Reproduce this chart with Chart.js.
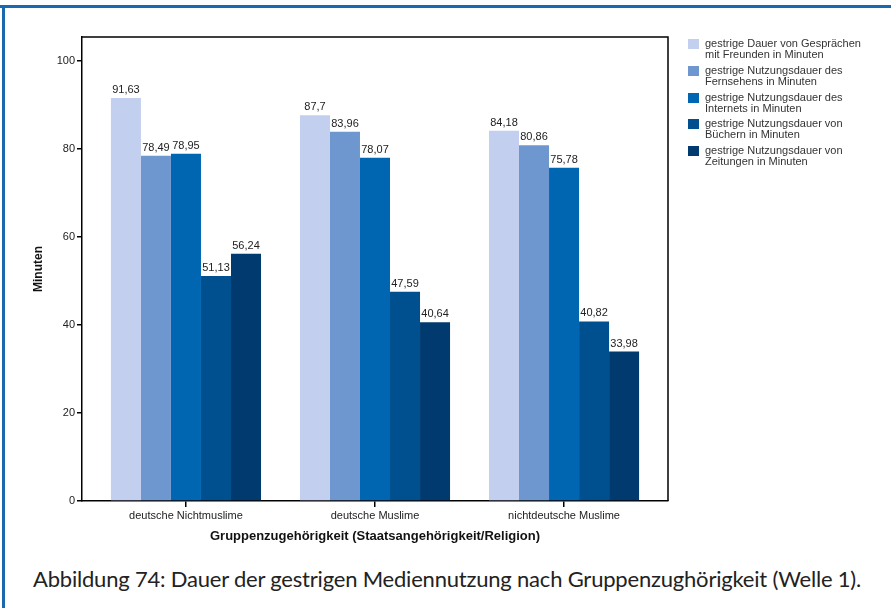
<!DOCTYPE html>
<html>
<head>
<meta charset="utf-8">
<script src="https://cdn.jsdelivr.net/npm/chart.js@4"></script>
<style>
  body { margin: 0; background: #fff; }
  #wrap { position: relative; width: 891px; height: 608px; overflow: hidden; background: #fff; }
  #rahmenOben { position: absolute; left: 0; top: 5px; width: 891px; height: 3px; background: #1a68b0; }
  #rahmenLinks { position: absolute; left: 2px; top: 5px; width: 3px; height: 603px; background: #1a68b0; }
  #grafik { position: absolute; left: 0; top: 0; }
  #legende { position: absolute; left: 688px; top: 39px; font: 11px "Liberation Sans", Arial, sans-serif; color: #333; }
  .eintrag { position: relative; height: 26.8px; }
  .farbe { position: absolute; left: 0; top: 0; width: 11px; height: 10px; }
  .text { position: absolute; left: 17px; top: -1px; line-height: 11px; white-space: nowrap; }
  #unterschrift { position: absolute; left: 33px; top: 565px; font: 22px Lato, sans-serif; letter-spacing: -0.2px; color: #222; white-space: nowrap; }
</style>
</head>
<body>
<div id="wrap">
  <div id="rahmenOben"></div>
  <div id="rahmenLinks"></div>
  <canvas id="grafik" width="891" height="560"></canvas>
  <div id="legende"></div>
  <div id="unterschrift">Abbildung 74: Dauer der gestrigen Mediennutzung nach Gruppenzughörigkeit (Welle 1).</div>
</div>
<script>
// Gruppen auf der x-Achse
var gruppen = ["deutsche Nichtmuslime", "deutsche Muslime", "nichtdeutsche Muslime"];

// Minuten je Medium (eine Reihe pro Medium, Werte je Gruppe)
var gespraeche = [91.63, 87.7, 84.18];
var fernsehen = [78.49, 83.96, 80.86];
var internet = [78.95, 78.07, 75.78];
var buecher = [51.13, 47.59, 40.82];
var zeitungen = [56.24, 40.64, 33.98];

var reihenNamen = [
  ["gestrige Dauer von Gesprächen", "mit Freunden in Minuten"],
  ["gestrige Nutzungsdauer des", "Fernsehens in Minuten"],
  ["gestrige Nutzungsdauer des", "Internets in Minuten"],
  ["gestrige Nutzungsdauer von", "Büchern in Minuten"],
  ["gestrige Nutzungsdauer von", "Zeitungen in Minuten"]
];
var farben = ["#c3cfee", "#6f97cf", "#0066b2", "#00508f", "#003a6e"];
var yTicks = [0, 20, 40, 60, 80, 100];

var reihen = [gespraeche, fernsehen, internet, buecher, zeitungen];

var datasets = reihen.map(function(werte, i) {
  return {
    label: reihenNamen[i].join(" "),
    backgroundColor: farben[i],
    borderWidth: 0,
    data: werte.map(function(v, g) { return { x: g, y: v }; })
  };
});

// Legende als HTML
var leg = document.getElementById("legende");
reihenNamen.forEach(function(n, i) {
  var e = document.createElement("div");
  e.className = "eintrag";
  e.innerHTML = '<div class="farbe" style="background:' + farben[i] + '"></div><div class="text">' + n[0] + '<br>' + n[1] + '</div>';
  leg.appendChild(e);
});

var werteBeschriftung = {
  id: "werteBeschriftung",
  afterDatasetsDraw: function(chart) {
    var ctx = chart.ctx;
    ctx.save();
    ctx.font = '11px "Liberation Sans", Arial, sans-serif';
    ctx.fillStyle = "#222";
    ctx.textAlign = "center";
    ctx.textBaseline = "alphabetic";
    chart.data.datasets.forEach(function(ds, i) {
      chart.getDatasetMeta(i).data.forEach(function(bar, j) {
        var txt = String(ds.data[j].y).replace(".", ",");
        ctx.fillText(txt, bar.x, bar.y - 5);
      });
    });
    ctx.restore();
  }
};

var rahmen = {
  id: "rahmen",
  afterDraw: function(chart) {
    var a = chart.chartArea, ctx = chart.ctx;
    ctx.save();
    ctx.strokeStyle = "#000";
    ctx.lineWidth = 1.5;
    ctx.beginPath();
    ctx.moveTo(a.left, a.top);
    ctx.lineTo(a.right, a.top);
    ctx.lineTo(a.right, a.bottom);
    ctx.stroke();
    ctx.restore();
  }
};

new Chart(document.getElementById("grafik"), {
  type: "bar",
  data: { datasets: datasets },
  plugins: [werteBeschriftung, rahmen],
  options: {
    responsive: false,
    animation: false,
    layout: { padding: { left: 0, top: 37, right: 223, bottom: 0 } },
    datasets: { bar: { categoryPercentage: 0.794, barPercentage: 1 } },
    plugins: { legend: { display: false }, tooltip: { enabled: false } },
    scales: {
      x: {
        type: "linear",
        min: -0.55,
        max: 2.55,
        offset: false,
        afterBuildTicks: function(s) {
          s.ticks = gruppen.map(function(g, i) { return { value: i }; });
        },
        afterFit: function(s) { s.height = 59; },
        ticks: {
          padding: 2,
          color: "#222",
          font: { family: "Liberation Sans", size: 11 },
          callback: function(v) { return gruppen[v]; }
        },
        grid: { drawOnChartArea: false, offset: false, tickLength: 6, color: "#000", lineWidth: 1.5 },
        border: { color: "#000", width: 1.5 },
        title: {
          display: true,
          text: "Gruppenzugehörigkeit (Staatsangehörigkeit/Religion)",
          color: "#111",
          font: { family: "Liberation Sans", size: 13, weight: "bold" },
          padding: { top: 0, bottom: 16 }
        }
      },
      y: {
        min: 0,
        max: 105.5,
        afterBuildTicks: function(s) {
          s.ticks = yTicks.map(function(v) { return { value: v }; });
        },
        afterFit: function(s) { s.width = 82; },
        ticks: {
          padding: 2,
          color: "#222",
          font: { family: "Liberation Sans", size: 11 }
        },
        grid: { drawOnChartArea: false, tickLength: 5, color: "#000", lineWidth: 1.5 },
        border: { color: "#000", width: 1.5 },
        title: {
          display: true,
          text: "Minuten",
          color: "#111",
          font: { family: "Liberation Sans", size: 12, weight: "bold" },
          padding: { top: 31, bottom: 0 }
        }
      }
    }
  }
});
</script>
</body>
</html>
